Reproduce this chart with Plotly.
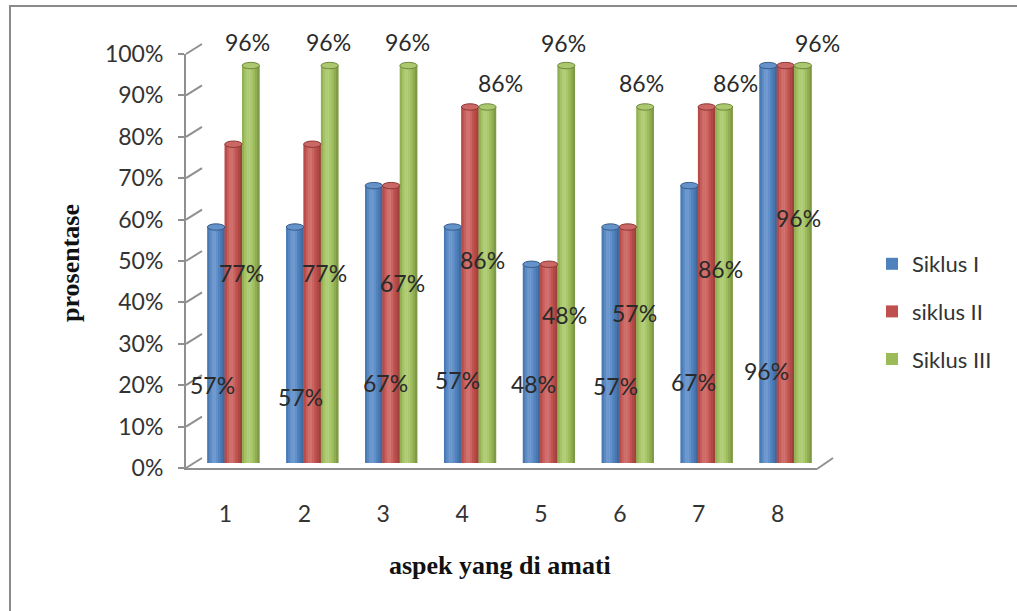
import plotly.graph_objects as go

# ---- data -------------------------------------------------------------
CATEGORIES = ["1", "2", "3", "4", "5", "6", "7", "8"]
SERIES_NAMES = ["Siklus I", "siklus II", "Siklus III"]
SIKLUS_I = [57, 57, 67, 57, 48, 57, 67, 96]
SIKLUS_II = [77, 77, 67, 86, 48, 57, 86, 96]
SIKLUS_III = [96, 96, 96, 86, 96, 86, 86, 96]
Y_TICKS = [0, 10, 20, 30, 40, 50, 60, 70, 80, 90, 100]

SERIES_VALUES = [SIKLUS_I, SIKLUS_II, SIKLUS_III]

# ---- styling ----------------------------------------------------------
W, H = 1017, 611
FONT = "Lato"
SERIF = "Liberation Serif"
GRID = "#8f8f8f"
TEXT = "#2a2a2a"

# (dark edge, base, highlight) per series
PALETTE = [
    ("#385d8a", "#4f81bd", "#86abdc"),
    ("#8c3836", "#c0504d", "#dc8a87"),
    ("#6f873d", "#9bbb59", "#c3dc91"),
]
# light profile across each cylinder, left -> right (0 dark, .5 base, 1 light)
SHADE = [0.40, 0.62, 0.78, 0.80, 0.68, 0.52, 0.36, 0.18]

# data-label anchor points (pixels) for each series
LABEL_PX = [
    [(212, 385), (300, 397), (385, 383), (457, 380), (533, 384), (615, 386), (693, 382), (766, 371)],
    [(241, 273), (324, 273), (402, 283), (482, 260), (564, 315), (634, 313), (720, 269), (798, 218)],
    [(247, 42), (328, 42), (407, 42), (500, 83), (563, 43), (641, 83), (735, 83), (817, 43)],
]

# 3-D box geometry (pixels): front plane, mid plane (bars), back wall
FRONT_X = (186, 817)
FRONT_Y = (468, 54)          # (0 %, 100 %)
DEPTH = (16, -10)            # offset from front plane to back wall
BAR_W = 0.22                 # width of one cylinder in category units
ELL = 3.2                    # half-height of cylinder caps in pixels


def px(x):
    return x / W


def py(y):
    return 1 - y / H


def dom_x(shift):
    return [px(FRONT_X[0] + shift), px(FRONT_X[1] + shift)]


def dom_y(shift):
    return [py(FRONT_Y[0] + shift), py(FRONT_Y[1] + shift)]


def hex_to_rgb(h):
    h = h.lstrip("#")
    return tuple(int(h[i:i + 2], 16) for i in (0, 2, 4))


def mix(c1, c2, t):
    a, b = hex_to_rgb(c1), hex_to_rgb(c2)
    return "rgb(%d,%d,%d)" % tuple(round(a[i] + (b[i] - a[i]) * t) for i in range(3))


def shade(pal, t):
    dark, base, light = pal
    if t <= 0.5:
        return mix(dark, base, t / 0.5)
    return mix(base, light, (t - 0.5) / 0.5)


fig = go.Figure()

n_cat = len(CATEGORIES)
cat_pos = list(range(1, n_cat + 1))
y_span = FRONT_Y[0] - FRONT_Y[1]
ell_units = ELL / y_span * 100

shapes = []
for s, (name, vals, pal) in enumerate(zip(SERIES_NAMES, SERIES_VALUES, PALETTE)):
    centers = [c + (s - 1) * BAR_W for c in cat_pos]
    # full-width body (also the legend entry)
    fig.add_trace(go.Bar(
        x=centers, y=vals, width=BAR_W, name=name,
        marker=dict(color=pal[1], line=dict(width=0)),
        xaxis="x2", yaxis="y2", legendgroup=name,
        hovertemplate=name + ": %{y}%<extra></extra>",
    ))
    # vertical shading stripes giving the cylinder look
    n = len(SHADE)
    sw = BAR_W / n
    for k, t in enumerate(SHADE):
        off = -BAR_W / 2 + sw * (k + 0.5)
        fig.add_trace(go.Bar(
            x=[c + off for c in centers], y=vals, width=sw * 1.08,
            marker=dict(color=shade(pal, t), line=dict(width=0)),
            xaxis="x2", yaxis="y2", showlegend=False, hoverinfo="skip",
        ))
    # elliptical caps at the top and bottom of every cylinder
    for c, v in zip(centers, vals):
        shapes.append(dict(
            type="circle", xref="x2", yref="y2",
            x0=c - BAR_W / 2, x1=c + BAR_W / 2, y0=-ell_units, y1=ell_units,
            fillcolor=shade(pal, 0.45), line=dict(width=0), layer="below",
        ))
        shapes.append(dict(
            type="circle", xref="x2", yref="y2",
            x0=c - BAR_W / 2, x1=c + BAR_W / 2, y0=v - ell_units, y1=v + ell_units,
            fillcolor=shade(pal, 0.7), line=dict(color=pal[0], width=1),
        ))

# invisible trace anchoring the front axes
fig.add_trace(go.Scatter(
    x=cat_pos, y=[0] * n_cat, mode="markers", marker=dict(opacity=0),
    xaxis="x3", yaxis="y3", showlegend=False, hoverinfo="skip",
))

# diagonal connectors from the front value axis to the back wall grid
for t in Y_TICKS:
    yf = FRONT_Y[0] - t / 100 * y_span
    shapes.append(dict(
        type="line", xref="paper", yref="paper",
        x0=px(FRONT_X[0]), y0=py(yf),
        x1=px(FRONT_X[0] + DEPTH[0]), y1=py(yf + DEPTH[1]),
        line=dict(color=GRID, width=2),
    ))
# right edge of the floor
shapes.append(dict(
    type="line", xref="paper", yref="paper",
    x0=px(FRONT_X[1]), y0=py(FRONT_Y[0] + 1),
    x1=px(FRONT_X[1] + DEPTH[0]), y1=py(FRONT_Y[0] + DEPTH[1]),
    line=dict(color=GRID, width=2),
))
# chart-area frame (left and top edges)
shapes.append(dict(
    type="path", xref="paper", yref="paper",
    path=f"M {px(10)},0 L {px(10)},{py(6)} L 1,{py(6)}",
    line=dict(color="#8a8a8a", width=2), layer="below",
))

# data labels
annotations = []
for s, vals in enumerate(SERIES_VALUES):
    for (lx, ly), v in zip(LABEL_PX[s], vals):
        annotations.append(dict(
            x=px(lx), y=py(ly), xref="paper", yref="paper",
            text=f"{v}%", showarrow=False, xanchor="center", yanchor="middle",
            font=dict(family=FONT, size=23, color=TEXT),
        ))

# axis titles
annotations.append(dict(
    x=px(70), y=py(263), xref="paper", yref="paper", text="<b>prosentase</b>",
    textangle=-90, showarrow=False, xanchor="center", yanchor="middle",
    font=dict(family=SERIF, size=26, color="#111111"),
))
annotations.append(dict(
    x=px(500), y=py(565), xref="paper", yref="paper", text="<b>aspek yang di amati</b>",
    showarrow=False, xanchor="center", yanchor="middle",
    font=dict(family=SERIF, size=26, color="#111111"),
))

hidden = dict(showgrid=False, zeroline=False, showticklabels=False, showline=False,
              ticks="", automargin=False)
x_range = [0.5, n_cat + 0.5]
y_range = [0, 100]

fig.update_layout(
    width=W, height=H, autosize=False,
    margin=dict(l=0, r=0, t=0, b=0, pad=0, autoexpand=False),
    paper_bgcolor="white", plot_bgcolor="rgba(0,0,0,0)",
    barmode="overlay",
    font=dict(family=FONT, size=23, color=TEXT),
    # back wall: gridlines only
    xaxis=dict(domain=dom_x(DEPTH[0]), range=x_range, anchor="y", **hidden),
    yaxis=dict(domain=dom_y(DEPTH[1]), range=y_range, anchor="x",
               showgrid=True, gridcolor=GRID, gridwidth=2, tickvals=Y_TICKS,
               zeroline=False, showticklabels=False, showline=False, ticks="",
               automargin=False),
    # mid plane: cylinders
    xaxis2=dict(domain=dom_x(DEPTH[0] / 2), range=x_range, anchor="y2", **hidden),
    yaxis2=dict(domain=dom_y(DEPTH[1] / 2), range=y_range, anchor="x2", **hidden),
    # front plane: axis lines, ticks and labels
    xaxis3=dict(domain=dom_x(0), range=x_range, anchor="y3", automargin=False,
                tickvals=cat_pos, ticktext=CATEGORIES, showgrid=False, zeroline=False,
                showline=True, linecolor=GRID, linewidth=2, ticks="",
                ticklabelstandoff=24, tickfont=dict(family=FONT, size=23, color="#333333")),
    yaxis3=dict(domain=dom_y(0), range=y_range, anchor="x3", automargin=False,
                tickvals=Y_TICKS, ticktext=[f"{t}%" for t in Y_TICKS],
                showgrid=False, zeroline=False, showline=True, linecolor=GRID, linewidth=2,
                ticks="outside", ticklen=6, tickwidth=2, tickcolor=GRID,
                ticklabelstandoff=10, tickfont=dict(family=FONT, size=23, color="#333333")),
    legend=dict(x=px(872), y=py(243), xanchor="left", yanchor="top",
                font=dict(family=FONT, size=22, color="#333333"),
                tracegroupgap=16, itemwidth=30, itemclick=False, itemdoubleclick=False,
                bgcolor="rgba(0,0,0,0)"),
    shapes=shapes,
    annotations=annotations,
)

fig.write_html("out.html")
